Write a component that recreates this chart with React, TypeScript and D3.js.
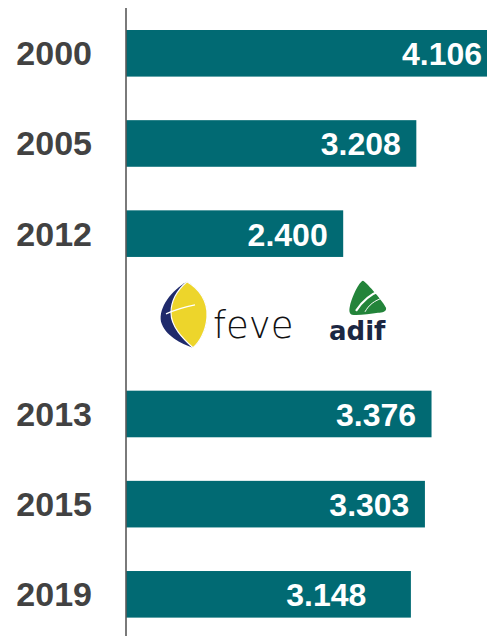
import React from "react";
import * as d3 from "d3";

const years = ["2000", "2005", "2012", "2013", "2015", "2019"];
const values = [4106, 3208, 2400, 3376, 3303, 3148];
const valueLabels = ["4.106", "3.208", "2.400", "3.376", "3.303", "3.148"];
const rows = ["2000", "2005", "2012", "logos", "2013", "2015", "2019"];

const W = 487;
const H = 636;
const BAR = "#016A73";
const LABEL = "#424242";
const FONT = "'Liberation Sans', Arial, sans-serif";

export default function App() {
  const axisX = 126;
  const x = d3.scaleLinear().domain([0, 4500]).range([axisX, axisX + 4500 * 0.0905]);
  const step = 90.17;
  const bw = 46.6;
  const y = d3
    .scaleBand<string>()
    .domain(rows)
    .range([30, 30 + 6 * step + bw])
    .paddingInner(1 - bw / step)
    .paddingOuter(0);

  const nudge: Record<string, number> = { "2019": 29 };
  const logoY = (y("logos") ?? 0) + y.bandwidth() / 2;

  return (
    <svg
      width={W}
      height={H}
      style={{ position: "absolute", left: 0, top: 0, background: "#fff" }}
      viewBox={`0 0 ${W} ${H}`}
    >
      <rect x={0} y={0} width={W} height={H} fill="#fff" />
      {years.map((yr, i) => {
        const y0 = y(yr) ?? 0;
        const cy = y0 + y.bandwidth() / 2;
        const xe = x(values[i]);
        return (
          <g key={yr}>
            <rect x={axisX} y={y0} width={xe - axisX} height={y.bandwidth()} fill={BAR} />
            <text
              x={92}
              y={cy + 12}
              textAnchor="end"
              fontFamily={FONT}
              fontWeight="bold"
              fontSize={34}
              fill={LABEL}
            >
              {yr}
            </text>
            <text
              x={Math.min(xe, 497.6) - 15.5 - (nudge[yr] ?? 0)}
              y={cy + 12}
              textAnchor="end"
              fontFamily={FONT}
              fontWeight="bold"
              fontSize={32}
              fill="#fff"
            >
              {valueLabels[i]}
            </text>
          </g>
        );
      })}
      <line x1={axisX} x2={axisX} y1={8} y2={H} stroke="#595959" strokeWidth={1.6} />

      {/* logos */}
      <g transform={`translate(0, ${logoY - 323})`}>
        {/* feve emblem */}
        <path
          d="M187,281 C199,288 208,300 207,316 C206,331 199,342 193,347 C181,343 165,335 161,321 C158,307 172,289 187,281 Z"
          fill="#1F2A6B"
        />
        <path
          d="M187,281 C199,288 208,300 207,316 C206,331 199,342 193,347 C183,338 171,326 171,312 C171,298 180,287 187,281 Z"
          fill="#EDD52B"
          stroke="#fff"
          strokeWidth={1.2}
        />
        <path d="M166,313 C175,309 185,306 195,304" stroke="#fff" strokeWidth={1.3} fill="none" />
        <text
          x={213}
          y={337}
          fontFamily="'DejaVu Sans', sans-serif"
          fontWeight={300}
          fontSize={37}
          fill="#111"
        >
          feve
        </text>
        {/* adif emblem */}
        <path
          d="M363,280 C367,282 384,302 386,307 C387,311 382,312 378,312 C370,313 358,315 352,314 C349,313 349,309 350,305 C352,296 359,281 363,280 Z"
          fill="#23843A"
        />
        <path d="M356,310 C362,301 369,294 380,290" stroke="#fff" strokeWidth={2.2} fill="none" />
        <path d="M365,311 C369,304 374,300 383,297" stroke="#fff" strokeWidth={1} fill="none" />
        <text
          x={329}
          y={339}
          fontFamily="'DejaVu Sans', sans-serif"
          fontWeight="bold"
          fontSize={26}
          fill="#1B2642"
        >
          adif
        </text>
      </g>
    </svg>
  );
}
